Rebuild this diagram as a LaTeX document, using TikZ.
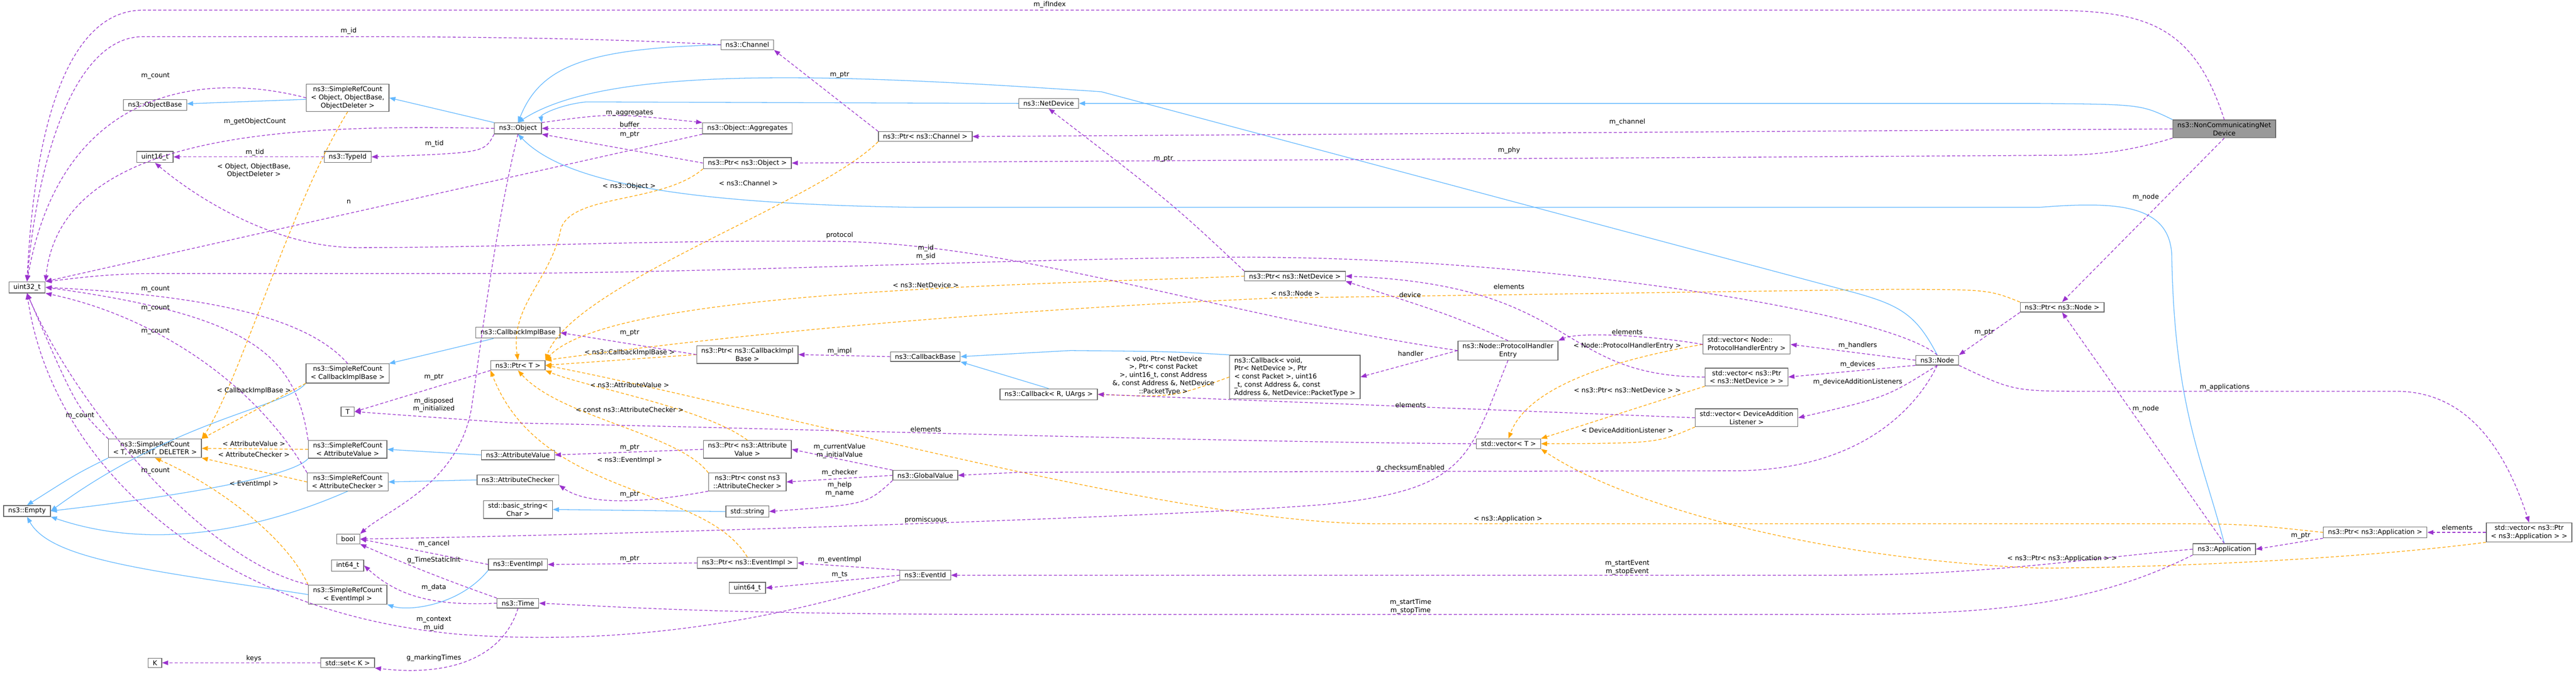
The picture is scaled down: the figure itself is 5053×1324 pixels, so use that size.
\documentclass[tikz,border=0pt]{standalone}
\usepackage{fontspec}
\setmainfont{DejaVu Sans}
\usetikzlibrary{arrows.meta}
\definecolor{purp}{HTML}{9A32CD}
\definecolor{blu}{HTML}{63B8FF}
\definecolor{orng}{HTML}{FFA500}
\definecolor{bord}{HTML}{666666}
\begin{document}
\begin{tikzpicture}[x=1pt,y=-1pt,
  box/.style={draw=bord,line width=1.3pt,fill=white,inner xsep=9pt,inner ysep=4.5pt,align=center,font=\fontsize{13}{16}\selectfont},
  lbl/.style={inner sep=1pt,align=center,font=\fontsize{13}{16}\selectfont},
  use/.style={draw=purp,line width=1.3pt,dash pattern=on 6pt off 4pt,-{Triangle[length=12pt,width=9pt]}},
  inh/.style={draw=blu,line width=1.3pt,-{Triangle[length=12pt,width=9pt]}},
  tpl/.style={draw=orng,line width=1.3pt,dash pattern=on 6pt off 4pt,-{Triangle[length=12pt,width=9pt]}}]
\useasboundingbox (0,0) rectangle (5053,1324);
% nodes
\node[box] (uint32) at (53,564) {uint32\_t};
\node[box] (objbase) at (304,206) {ns3::ObjectBase};
\node[box] (srcobj) at (682,192) {ns3::SimpleRefCount\\< Object, ObjectBase,\\ ObjectDeleter >};
\node[box] (uint16) at (304,308) {uint16\_t};
\node[box] (typeid) at (682,308) {ns3::TypeId};
\node[box] (object) at (1016,252) {ns3::Object};
\node[box] (channel) at (1466,88) {ns3::Channel};
\node[box] (aggr) at (1466,252) {ns3::Object::Aggregates};
\node[box] (ptrobj) at (1466,320) {ns3::Ptr< ns3::Object >};
\node[box] (ptrchan) at (1815,268) {ns3::Ptr< ns3::Channel >};
\node[box] (netdev) at (2057,203) {ns3::NetDevice};
\node[box,fill={rgb,255:red,153;green,153;blue,153}] (noncomm) at (4363,253) {ns3::NonCommunicatingNet\\Device};
\node[box] (ptrnode) at (4045,603) {ns3::Ptr< ns3::Node >};
\node[box] (node) at (3800,707) {ns3::Node};
\node[box] (vecapp) at (4961,1045) {std::vector< ns3::Ptr\\< ns3::Application > >};
\node[box] (ptrapp) at (4659,1045) {ns3::Ptr< ns3::Application >};
\node[box] (app) at (4363,1078) {ns3::Application};
\node[box] (ptrnd) at (2540,542) {ns3::Ptr< ns3::NetDevice >};
\node[box] (phe) at (2958,688) {ns3::Node::ProtocolHandler\\Entry};
\node[box,align=left] (vecphe) at (3426,676) {std::vector< Node::\\ProtocolHandlerEntry >};
\node[box,align=left] (cbvoid) at (2540,740) {ns3::Callback< void,\\ Ptr< NetDevice >, Ptr\\< const Packet >, uint16\\\_t, const Address \&, const\\ Address \&, NetDevice::PacketType >};
\node[box] (vecnd) at (3426,740) {std::vector< ns3::Ptr\\< ns3::NetDevice > >};
\node[box] (vecdal) at (3426,820) {std::vector< DeviceAddition\\Listener >};
\node[box] (vect) at (2959,871) {std::vector< T >};
\node[box] (cbr) at (2057,774) {ns3::Callback< R, UArgs >};
\node[box] (ptrt) at (1016,717) {ns3::Ptr< T >};
\node[box] (ptrcib) at (1466,696) {ns3::Ptr< ns3::CallbackImpl\\Base >};
\node[box] (cbbase) at (1815,700) {ns3::CallbackBase};
\node[box] (ptrav) at (1466,882) {ns3::Ptr< ns3::Attribute\\Value >};
\node[box] (ptrac) at (1466,946) {ns3::Ptr< const ns3\\::AttributeChecker >};
\node[box] (gv) at (1815,933) {ns3::GlobalValue};
\node[box] (string) at (1466,1004) {std::string};
\node[box] (ptrev) at (1466,1105) {ns3::Ptr< ns3::EventImpl >};
\node[box] (uint64) at (1466,1154) {uint64\_t};
\node[box] (eventid) at (1815,1129) {ns3::EventId};
\node[box] (cib) at (1016,653) {ns3::CallbackImplBase};
\node[box] (av) at (1016,893) {ns3::AttributeValue};
\node[box] (ac) at (1016,942) {ns3::AttributeChecker};
\node[box] (bstr) at (1016,1000) {std::basic\_string<\\ Char >};
\node[box] (evimpl) at (1016,1108) {ns3::EventImpl};
\node[box] (time) at (1016,1184) {ns3::Time};
\node[box] (srccib) at (682,733) {ns3::SimpleRefCount\\< CallbackImplBase >};
\node[box] (T) at (682,808) {T};
\node[box] (srctpd) at (304,880) {ns3::SimpleRefCount\\< T, PARENT, DELETER >};
\node[box] (srcav) at (682,882) {ns3::SimpleRefCount\\< AttributeValue >};
\node[box] (srcac) at (682,946) {ns3::SimpleRefCount\\< AttributeChecker >};
\node[box] (empty) at (53,1003) {ns3::Empty};
\node[box] (bool) at (683,1058) {bool};
\node[box] (int64) at (682,1110) {int64\_t};
\node[box] (srcev) at (682,1167) {ns3::SimpleRefCount\\< EventImpl >};
\node[box] (K) at (304,1301) {K};
\node[box] (setk) at (682,1301) {std::set< K >};
% inheritance
\begin{scope}[on background layer/.style={}]
\draw[inh] (srcobj) -- (objbase);
\draw[inh] (object.north west) -- (srcobj.east);
\draw[inh] (channel.west) .. controls (1150,95) and (1060,130) .. (object.north);
\draw[inh] (netdev.west) -- (1150,200) .. controls (1100,205) and (1060,225) .. (object.north east);
\draw[inh] (node.north) .. controls (3760,620) and (3730,600) .. (3640,575) -- (2160,180) .. controls (1700,150) and (1200,120) .. (object.north);
\draw[inh] (app.north) .. controls (4320,900) and (4265,800) .. (4260,500) .. controls (4255,400) and (4150,395) .. (4000,407) -- (1800,407) .. controls (1300,400) and (1100,350) .. (object.south);
\draw[inh] (noncomm.north west) .. controls (4200,205) .. (4000,203) -- (netdev.east);
\draw[inh] (srccib.south west) .. controls (560,800) and (350,820) .. (empty.east);
\draw[inh] (srctpd.south west) .. controls (150,930) .. (empty.north);
\draw[inh] (srcav.south west) .. controls (570,940) and (300,980) .. (empty.east);
\draw[inh] (srcac.south) .. controls (600,1000) and (350,1100) .. (empty.south east);
\draw[inh] (srcev.west) .. controls (300,1120) and (100,1100) .. (empty.south);
\draw[inh] (cib) -- (srccib);
\draw[inh] (av.west) -- (srcav.east);
\draw[inh] (ac.west) -- (srcac.east);
\draw[inh] (evimpl.south west) .. controls (900,1190) and (800,1200) .. (srcev.south east);
\draw[inh] (string.west) -- (bstr.east);
\draw[inh] (cbr.north) -- (cbbase.south east);
\draw[inh] (cbvoid.north west) .. controls (2300,690) .. (2100,688) -- (cbbase.east);
% template
\draw[tpl] (srcobj.south) .. controls (570,400) and (470,750) .. (srctpd.north east);
\draw[tpl] (srccib.south west) -- (srctpd.north east);
\draw[tpl] (srcav.west) -- (srctpd.east);
\draw[tpl] (srcac.west) -- (srctpd.south east);
\draw[tpl] (srcev.north west) .. controls (560,1050) and (420,950) .. (srctpd.south);
\draw[tpl] (ptrobj.south west) .. controls (1300,400) and (1120,380) .. (1100,450) .. controls (1080,550) and (1000,600) .. (ptrt.north);
\draw[tpl] (ptrchan.south west) .. controls (1600,400) and (1120,560) .. (ptrt.north east);
\draw[tpl] (ptrnd.west) .. controls (2000,560) and (1200,570) .. (ptrt.north east);
\draw[tpl] (ptrnode.north west) .. controls (3900,568) .. (3700,568) -- (2500,585) .. controls (1700,620) and (1200,690) .. (ptrt.north east);
\draw[tpl] (ptrcib.west) -- (ptrt.east);
\draw[tpl] (ptrav.north) .. controls (1380,800) and (1150,760) .. (ptrt.south east);
\draw[tpl] (ptrac.north west) .. controls (1330,850) and (1100,820) .. (ptrt.south);
\draw[tpl] (ptrev.north) .. controls (1380,950) and (1060,980) .. (ptrt.south west);
\draw[tpl] (ptrapp.west) .. controls (4400,1028) .. (4200,1028) -- (2700,1028) .. controls (2300,1028) and (1500,800) .. (ptrt.east);
\draw[tpl] (cbvoid.west) .. controls (2300,780) .. (cbr.east);
\draw[tpl] (vecphe.west) .. controls (3200,700) and (3000,750) .. (vect.north);
\draw[tpl] (vecnd.south west) -- (vect.north east);
\draw[tpl] (vecdal.south west) .. controls (3250,870) .. (vect.east);
\draw[tpl] (vecapp.south west) .. controls (4600,1100) and (4200,1115) .. (4000,1115) .. controls (3600,1100) and (3200,1000) .. (vect.south east);
% usage
\draw[use] (noncomm.north) .. controls (4300,40) and (4200,20) .. (4000,20) -- (280,20) .. controls (150,20) and (70,200) .. (uint32.north);
\draw[use] (channel.west) .. controls (1200,75) and (900,72) .. (700,72) -- (280,72) .. controls (150,72) and (75,300) .. (uint32.north);
\draw[use] (srcobj.west) .. controls (400,140) and (120,170) .. (uint32.north);
\draw[use] (object.west) .. controls (600,245) and (120,250) .. (uint32.north east);
\draw[use] (object.south west) .. controls (950,300) .. (typeid.east);
\draw[use] (typeid.west) -- (uint16.east);
\draw[use] (object.north east) .. controls (1200,222) .. (aggr.north west);
\draw[use] (aggr.west) -- (object.east);
\draw[use] (ptrobj.west) -- (object.south east);
\draw[use] (aggr.south west) -- (uint32.north east);
\draw[use] (ptrchan.north west) -- (channel.south east);
\draw[use] (noncomm.west) -- (ptrchan.east);
\draw[use] (noncomm.south west) .. controls (4150,305) and (4080,305) .. (4000,305) -- (ptrobj.east);
\draw[use] (noncomm.south) -- (ptrnode.north);
\draw[use] (ptrnd.north west) .. controls (2300,400) .. (netdev.south);
\draw[use] (phe.west) .. controls (2400,620) and (2000,480) .. (1650,474) .. controls (1300,470) and (1000,486) .. (700,486) .. controls (550,486) and (400,400) .. (uint16.south);
\draw[use] (node.north) .. controls (3700,610) and (3000,500) .. (2400,505) .. controls (1900,510) and (1400,537) .. (900,537) -- (300,537) .. controls (200,537) and (120,550) .. (uint32.north east);
\draw[use] (srccib.north) .. controls (600,620) and (400,580) .. (uint32.east);
\draw[use] (srcav.north west) .. controls (580,700) and (500,620) .. (uint32.east);
\draw[use] (srcac.north west) .. controls (500,750) and (300,620) .. (uint32.south east);
\draw[use] (srctpd.north west) .. controls (150,800) .. (uint32.south);
\draw[use] (srcev.north west) .. controls (400,1100) and (150,800) .. (uint32.south);
\draw[use] (eventid.south west) .. controls (1400,1255) and (1100,1260) .. (900,1245) .. controls (400,1200) and (100,900) .. (uint32.south);
\draw[use] (ptrcib.west) -- (cib.east);
\draw[use] (cbbase.west) -- (ptrcib.east);
\draw[use] (ptrt.south west) -- (T.east);
\draw[use] (object.south) .. controls (970,450) and (940,700) .. (925,800) .. controls (900,950) and (760,1000) .. (bool.north east);
\draw[use] (vect.west) .. controls (2400,868) and (1500,840) .. (1000,830) -- (T.east);
\draw[use] (ptrav.west) -- (av.east);
\draw[use] (gv.north west) -- (ptrav.east);
\draw[use] (gv.west) -- (ptrac.east);
\draw[use] (ptrac.south west) .. controls (1250,990) and (1150,990) .. (ac.south east);
\draw[use] (gv.south west) .. controls (1700,990) .. (string.east);
\draw[use] (node.south) .. controls (3760,800) and (3650,924) .. (3400,924) -- (2000,927) -- (gv.east);
\draw[use] (phe.south) .. controls (2880,900) and (2880,960) .. (2600,990) .. controls (2300,1015) and (1200,1050) .. (bool.east);
\draw[use] (evimpl.west) -- (bool.east);
\draw[use] (time.north west) .. controls (850,1130) and (780,1100) .. (bool.south east);
\draw[use] (time.west) .. controls (850,1190) and (780,1170) .. (int64.east);
\draw[use] (time.south) .. controls (990,1280) and (900,1330) .. (setk.south east);
\draw[use] (setk.west) -- (K.east);
\draw[use] (ptrev.west) -- (evimpl.east);
\draw[use] (eventid.north west) -- (ptrev.east);
\draw[use] (eventid.west) -- (uint64.east);
\draw[use] (app.west) .. controls (4100,1095) and (3900,1129) .. (3600,1129) -- (eventid.east);
\draw[use] (app.south west) .. controls (4100,1190) and (3900,1206) .. (3600,1206) -- (2000,1206) .. controls (1400,1206) and (1200,1190) .. (time.east);
\draw[use] (app.north) -- (ptrnode.south);
\draw[use] (ptrnode.south west) -- (node.north east);
\draw[use] (node.west) -- (vecphe.east);
\draw[use] (node.south west) -- (vecnd.east);
\draw[use] (node.south) .. controls (3700,780) .. (vecdal.east);
\draw[use] (node.south east) .. controls (3950,768) .. (4100,768) -- (4700,768) .. controls (4850,768) and (4920,900) .. (vecapp.north);
\draw[use] (vecphe.west) .. controls (3250,660) and (3100,650) .. (phe.north east);
\draw[use] (vecnd.west) .. controls (3050,740) and (3100,560) .. (ptrnd.east);
\draw[use] (phe.north) .. controls (2850,620) .. (ptrnd.south east);
\draw[use] (phe.west) -- (cbvoid.east);
\draw[use] (vecdal.west) -- (cbr.east);
\draw[use] (vecapp.west) -- (ptrapp.east);
\draw[use] (ptrapp.south west) -- (app.east);
\end{scope}
% labels
\node[lbl] at (2059,9) {m\_ifIndex};
\node[lbl] at (684,61) {m\_id};
\node[lbl] at (305,149) {m\_count};
\node[lbl] at (500,239) {m\_getObjectCount};
\node[lbl] at (852,282) {m\_tid};
\node[lbl] at (500,299) {m\_tid};
\node[lbl] at (498,335) {< Object, ObjectBase,\\ObjectDeleter >};
\node[lbl] at (684,396) {n};
\node[lbl] at (1235,222) {m\_aggregates};
\node[lbl] at (1235,244) {buffer};
\node[lbl] at (1235,264) {m\_ptr};
\node[lbl] at (1647,147) {m\_ptr};
\node[lbl] at (3192,240) {m\_channel};
\node[lbl] at (2960,295) {m\_phy};
\node[lbl] at (2282,312) {m\_ptr};
\node[lbl] at (1234,366) {< ns3::Object >};
\node[lbl] at (1468,359) {< ns3::Channel >};
\node[lbl] at (1647,462) {protocol};
\node[lbl] at (1816,495) {m\_id\\m\_sid};
\node[lbl] at (1816,560) {< ns3::NetDevice >};
\node[lbl] at (1235,653) {m\_ptr};
\node[lbl] at (4209,387) {m\_node};
\node[lbl] at (2960,563) {elements};
\node[lbl] at (2766,579) {device};
\node[lbl] at (2541,576) {< ns3::Node >};
\node[lbl] at (3192,652) {elements};
\node[lbl] at (3192,679) {< Node::ProtocolHandlerEntry >};
\node[lbl] at (2767,694) {handler};
\node[lbl] at (2282,737) {< void, Ptr< NetDevice\\>, Ptr< const Packet\\>, uint16\_t, const Address\\\&, const Address \&, NetDevice\\::PacketType >};
\node[lbl] at (2767,795) {elements};
\node[lbl] at (3192,766) {< ns3::Ptr< ns3::NetDevice > >};
\node[lbl] at (3192,845) {< DeviceAdditionListener >};
\node[lbl] at (2767,919) {g\_checksumEnabled};
\node[lbl] at (2958,1019) {< ns3::Application >};
\node[lbl] at (3192,1114) {m\_startEvent\\m\_stopEvent};
\node[lbl] at (2767,1191) {m\_startTime\\m\_stopTime};
\node[lbl] at (1235,692) {< ns3::CallbackImplBase >};
\node[lbl] at (1647,689) {m\_impl};
\node[lbl] at (1235,756) {< ns3::AttributeValue >};
\node[lbl] at (1235,804) {< const ns3::AttributeChecker >};
\node[lbl] at (1816,843) {elements};
\node[lbl] at (1235,879) {m\_ptr};
\node[lbl] at (1235,903) {< ns3::EventImpl >};
\node[lbl] at (1647,885) {m\_currentValue\\m\_initialValue};
\node[lbl] at (1647,928) {m\_checker};
\node[lbl] at (1647,960) {m\_help\\m\_name};
\node[lbl] at (1235,971) {m\_ptr};
\node[lbl] at (1816,1021) {promiscuous};
\node[lbl] at (1235,1097) {m\_ptr};
\node[lbl] at (1647,1099) {m\_eventImpl};
\node[lbl] at (1647,1128) {m\_ts};
\node[lbl] at (305,567) {m\_count};
\node[lbl] at (305,605) {m\_count};
\node[lbl] at (305,650) {m\_count};
\node[lbl] at (498,767) {< CallbackImplBase >};
\node[lbl] at (157,816) {m\_count};
\node[lbl] at (498,871) {< AttributeValue >};
\node[lbl] at (498,892) {< AttributeChecker >};
\node[lbl] at (305,924) {m\_count};
\node[lbl] at (498,950) {< EventImpl >};
\node[lbl] at (851,740) {m\_ptr};
\node[lbl] at (851,795) {m\_disposed\\m\_initialized};
\node[lbl] at (851,1067) {m\_cancel};
\node[lbl] at (851,1100) {g\_TimeStaticInit};
\node[lbl] at (851,1153) {m\_data};
\node[lbl] at (851,1224) {m\_context\\m\_uid};
\node[lbl] at (498,1292) {keys};
\node[lbl] at (851,1292) {g\_markingTimes};
\node[lbl] at (3892,652) {m\_ptr};
\node[lbl] at (3644,678) {m\_handlers};
\node[lbl] at (3644,716) {m\_devices};
\node[lbl] at (3644,750) {m\_deviceAdditionListeners};
\node[lbl] at (4364,760) {m\_applications};
\node[lbl] at (4209,803) {m\_node};
\node[lbl] at (4820,1036) {elements};
\node[lbl] at (4513,1052) {m\_ptr};
\node[lbl] at (4045,1096) {< ns3::Ptr< ns3::Application > >};
\end{tikzpicture}
\end{document}
